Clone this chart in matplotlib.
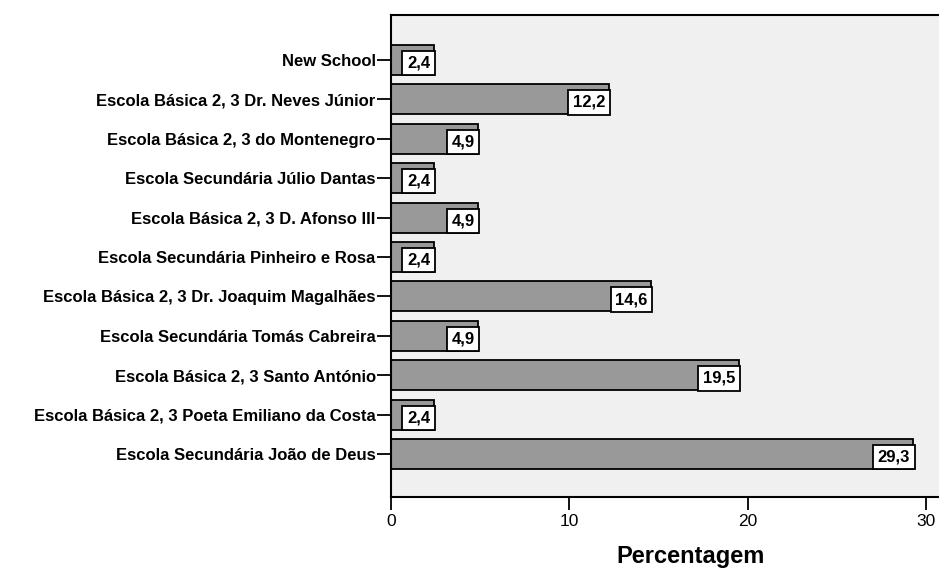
import matplotlib.pyplot as plt

schools = ['Escola Secundária João de Deus',
           'Escola Básica 2, 3 Poeta Emiliano da Costa',
           'Escola Básica 2, 3 Santo António',
           'Escola Secundária Tomás Cabreira',
           'Escola Básica 2, 3 Dr. Joaquim Magalhães',
           'Escola Secundária Pinheiro e Rosa',
           'Escola Básica 2, 3 D. Afonso III',
           'Escola Secundária Júlio Dantas',
           'Escola Básica 2, 3 do Montenegro',
           'Escola Básica 2, 3 Dr. Neves Júnior',
           'New School']
percent = [29.3, 2.4, 19.5, 4.9, 14.6, 2.4, 4.9, 2.4, 4.9, 12.2, 2.4]
xticks = [0, 10, 20, 30]

plt.rcParams['font.family'] = ['Liberation Sans', 'DejaVu Sans']

fig = plt.figure(figsize=(9.39, 5.69), dpi=100)
# axes run past the right edge of the picture, as in the original
ax = fig.add_axes([391/939, 1 - 497/569, 600/939, (497 - 15)/569])
ax.set_facecolor('#f0f0f0')

pos = list(range(len(schools)))
ax.barh(pos, percent, height=0.76, color='#999999', edgecolor='black', linewidth=1.3)
for y, v in zip(pos, percent):
    ax.text(v - 0.2, y - 0.08, ('%.1f' % v).replace('.', ','), ha='right', va='center',
            fontsize=12, fontweight='bold',
            bbox=dict(boxstyle='square,pad=0.28', fc='white', ec='black', lw=1.3))

ax.set_xlim(0, 33.65)
ax.set_ylim(-1.09, 11.14)
ax.set_yticks(pos)
ax.set_yticklabels(schools, fontsize=12, fontweight='bold')
ax.set_xticks(xticks)
ax.tick_params(axis='y', length=10, width=1.3, pad=1)
ax.tick_params(axis='x', length=9, width=1.3, labelsize=12.5, pad=3)
for s in ax.spines.values():
    s.set_linewidth(1.5)
ax.set_xlabel('Percentagem', fontsize=17, fontweight='bold', labelpad=12)

fig.savefig('out.png', dpi=100)
